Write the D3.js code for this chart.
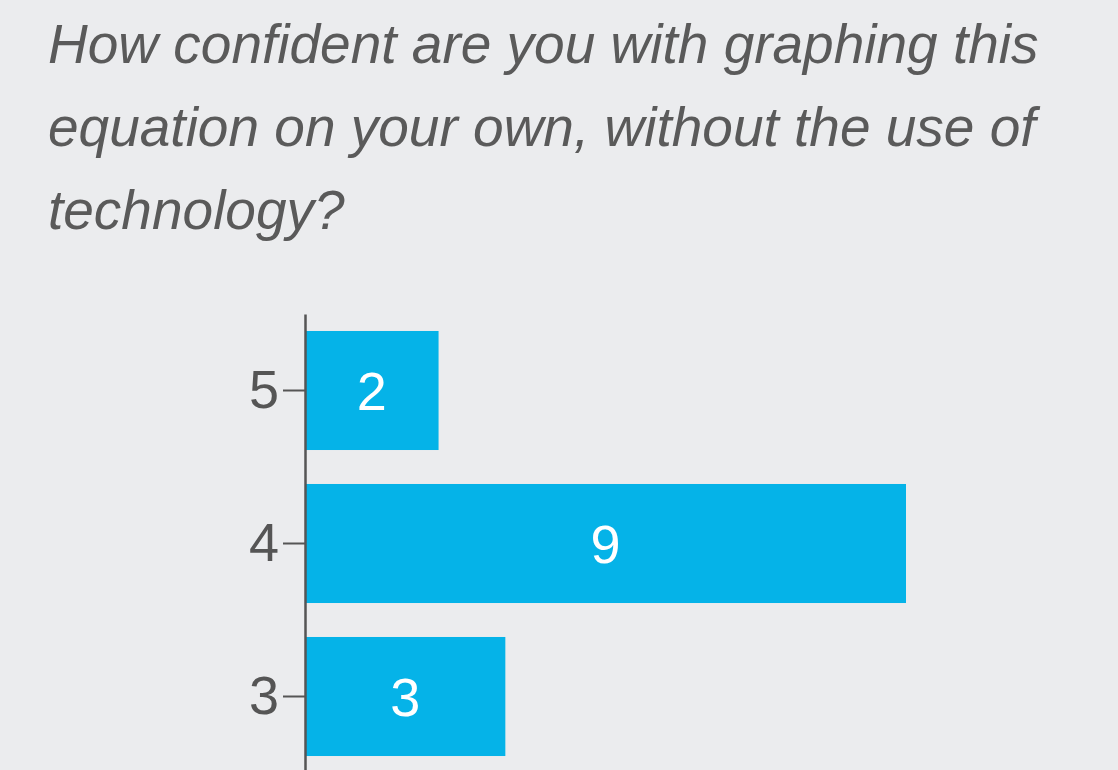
<!DOCTYPE html>
<html><head><meta charset="utf-8">
<script src="https://cdn.jsdelivr.net/npm/d3@7"></script>
<style>html,body{margin:0;padding:0;background:#ebecee;overflow:hidden}</style>
</head><body>
<svg id="c" width="1118" height="770"></svg>
<script>
const titleLines = ["How confident are you with graphing this","equation on your own, without the use of","technology?"];
const categories = ["5","4","3"];
const values = [2,9,3];

const svg = d3.select("#c");
svg.append("rect").attr("width",1118).attr("height",770).attr("fill","#ebecee");
svg.append("g").selectAll("text").data(titleLines).join("text")
  .attr("x",48).attr("y",(d,i)=>63+i*83)
  .attr("font-family","Liberation Sans, Arial, sans-serif").attr("font-style","italic")
  .attr("font-size",55).attr("fill","#5a5a5a").text(d=>d);

const x = d3.scaleLinear().domain([0,9]).range([305,906]);
const y = d3.scaleBand().domain(categories).range([314,314+3*153]).paddingInner(0.222).paddingOuter(0.111);

svg.append("g").selectAll("rect").data(values).join("rect")
  .attr("x",x(0)).attr("y",(d,i)=>y(categories[i]))
  .attr("width",d=>x(d)-x(0)).attr("height",y.bandwidth()).attr("fill","#05b3e8");
svg.append("g").selectAll("text").data(values).join("text")
  .attr("x",d=>(x(d)+x(0))/2).attr("y",(d,i)=>y(categories[i])+y.bandwidth()/2)
  .attr("dy","0.36em").attr("text-anchor","middle")
  .attr("font-family","Liberation Sans, Arial, sans-serif").attr("font-size",54)
  .attr("fill","#ffffff").text(d=>d);

const ax = svg.append("g").attr("transform",`translate(${x(0)},0)`)
  .call(d3.axisLeft(y).tickSize(22).tickSizeOuter(0).tickPadding(4));
ax.select(".domain").attr("stroke","#555").attr("stroke-width",2.5);
ax.selectAll(".tick line").attr("stroke","#555").attr("stroke-width",2);
ax.selectAll(".tick text").attr("font-family","Liberation Sans, Arial, sans-serif")
  .attr("font-size",54).attr("fill","#555");
</script>
</body></html>
